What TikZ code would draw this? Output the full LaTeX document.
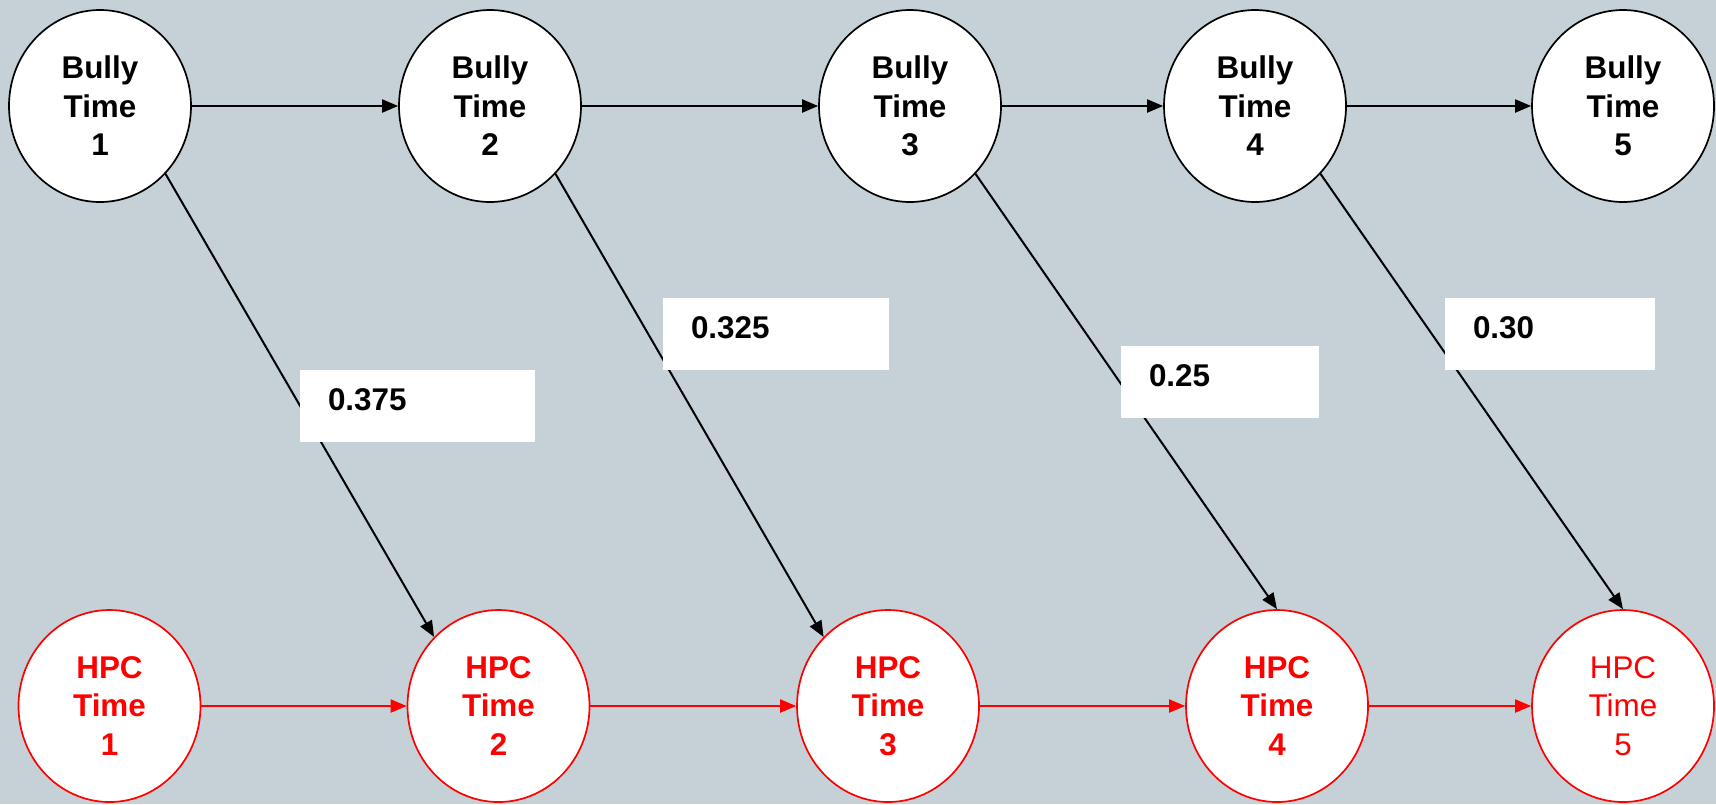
\documentclass[tikz,border=0pt]{standalone}
\usepackage{fontspec}
\setmainfont{Liberation Sans}
\usetikzlibrary{shapes.geometric,arrows.meta}
\definecolor{bgc}{RGB}{197,208,215}
\definecolor{hred}{RGB}{255,0,0}
\tikzset{
  tnode/.style={ellipse, draw=black, line width=0.85pt, fill=white, inner sep=0pt,
    minimum width=91pt, minimum height=96pt, align=center,
    font=\fontsize{15.7pt}{19.25pt}\selectfont\bfseries},
  hnode/.style={tnode, draw=hred, text=hred},
  hnodereg/.style={hnode, font=\fontsize{15.7pt}{19.25pt}\selectfont},
  arr/.style={line width=1pt, draw=black, -{Triangle[length=8pt,width=6.5pt]}},
  rarr/.style={arr, draw=hred, -{Triangle[length=8pt,width=6.5pt,fill=hred]}},
  valbox/.style={rectangle, fill=white, draw=none, inner xsep=14pt, inner ysep=0pt,
    minimum height=36pt, text height=11pt, text depth=6.3pt, align=left,
    text width=#1, font=\fontsize{15.7pt}{19pt}\selectfont\bfseries}
}
\begin{document}
\begin{tikzpicture}[x=0.5pt,y=-0.5pt]
\fill[bgc] (0,0) rectangle (1716,804);
\useasboundingbox (0,0) rectangle (1716,804);
% top row
\node[tnode] (b1) at (100,106) {Bully\\Time\\1};
\node[tnode] (b2) at (490,106) {Bully\\Time\\2};
\node[tnode] (b3) at (910,106) {Bully\\Time\\3};
\node[tnode] (b4) at (1255,106) {Bully\\Time\\4};
\node[tnode] (b5) at (1623,106) {Bully\\Time\\5};
% bottom row
\node[hnode] (h1) at (109.5,706) {HPC\\Time\\1};
\node[hnode] (h2) at (498.5,706) {HPC\\Time\\2};
\node[hnode] (h3) at (888,706) {HPC\\Time\\3};
\node[hnode] (h4) at (1277,706) {HPC\\Time\\4};
\node[hnodereg] (h5) at (1623,706) {HPC\\Time\\5};
% horizontal arrows
\draw[arr] (b1) -- (b2);
\draw[arr] (b2) -- (b3);
\draw[arr] (b3) -- (b4);
\draw[arr] (b4) -- (b5);
\draw[rarr] (h1) -- (h2);
\draw[rarr] (h2) -- (h3);
\draw[rarr] (h3) -- (h4);
\draw[rarr] (h4) -- (h5);
% diagonal arrows
\draw[arr] (b1.-46) -- (h2.133);
\draw[arr] (b2.-46) -- (h3.133);
\draw[arr] (b3.-46) -- (h4.north);
\draw[arr] (b4.-46) -- (h5.north);
% value boxes
\node[valbox=89.5pt] (v1) at (417.5,406) {0.375};
\node[valbox=85pt] (v2) at (776,334) {0.325};
\node[valbox=71pt] (v3) at (1220,382) {0.25};
\node[valbox=77pt] (v4) at (1550,334) {0.30};
\end{tikzpicture}
\end{document}
